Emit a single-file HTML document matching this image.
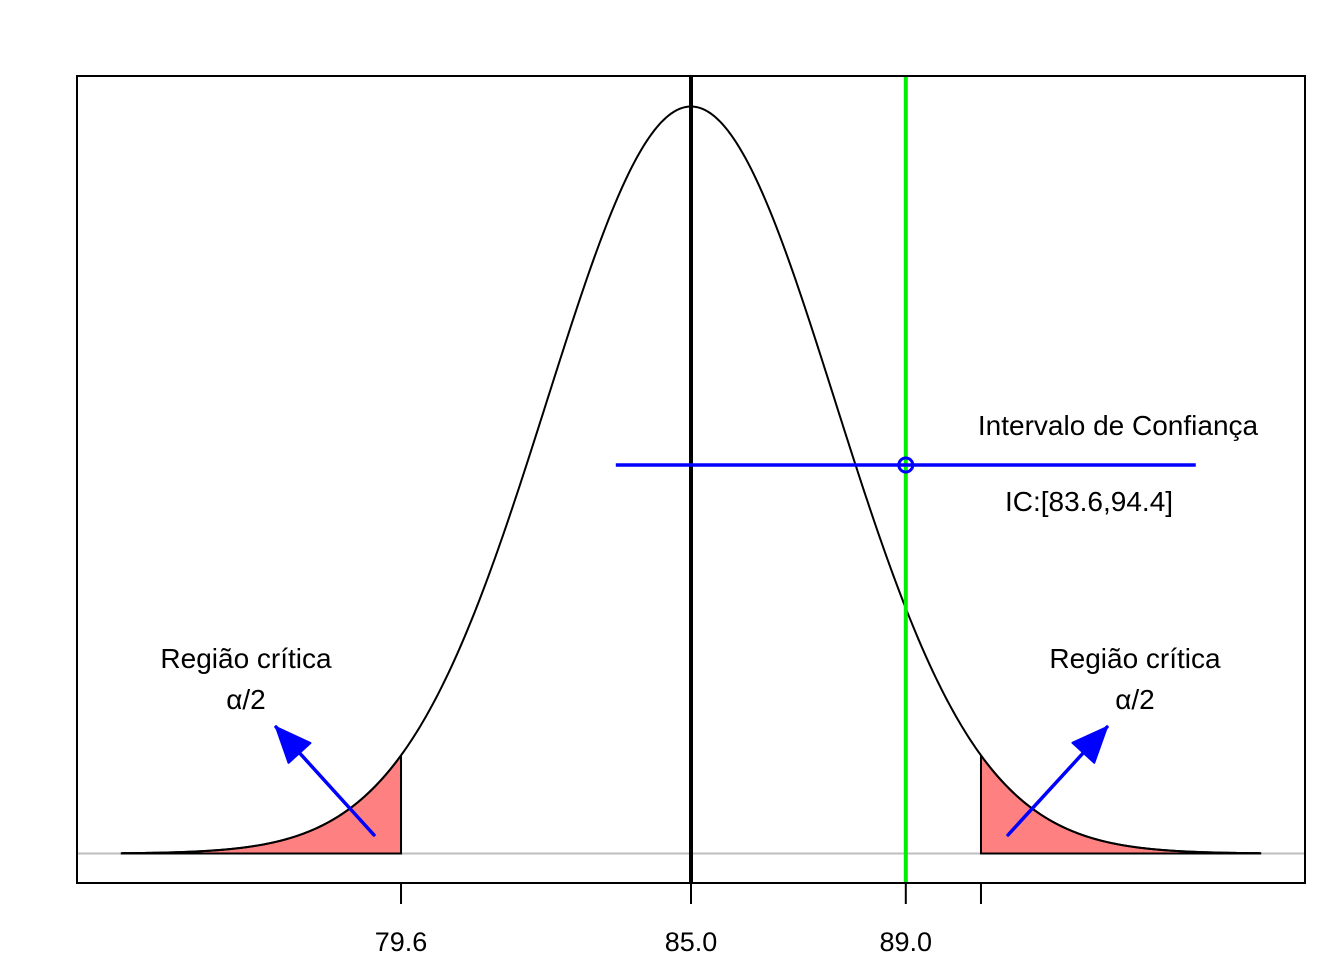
<!DOCTYPE html>
<html><head><meta charset="utf-8"><style>
body{margin:0;background:#fff}
svg{display:block;font-family:"Liberation Sans",Arial,sans-serif}
</style></head><body>
<svg id="chart" width="1344" height="960" viewBox="0 0 1344 960" xmlns="http://www.w3.org/2000/svg">
<rect x="0" y="0" width="1344" height="960" fill="#fff"/>
<g id="marks"></g>
</svg>
<script>
const mu = 85.0;
const sd = 2.68;
const xMin = 74.4, xMax = 95.6;
const critLow = 79.6, critHigh = 90.4;
const sampleMean = 89.0;
const ciBounds = [83.6, 94.4];
const tickValues = [79.6, 85.0, 89.0, 90.4];
const tickLabels = ["79.6", "85.0", "89.0", ""];

const NS = "http://www.w3.org/2000/svg";
const g = document.getElementById("marks");
const X = v => 691 + (v - 85.0) * 53.7;
const base = 853.5, peakH = 747;
const dens = v => Math.exp(-0.5 * ((v - mu) / sd) ** 2);
const Y = v => base - peakH * dens(v);
function mk(tag, attrs, name, text) {
  const e = document.createElementNS(NS, tag);
  for (const k in attrs) e.setAttribute(k, attrs[k]);
  
  
  if (text !== undefined) e.textContent = text;
  g.appendChild(e);
  return e;
}
// baseline
mk('line', {x1: 77, x2: 1305, y1: base, y2: base, stroke: '#bebebe', 'stroke-width': 2}, 'zero-line');
// tails
function tail(a, b, name) {
  let p = `M${X(a)},${base}`;
  for (let i = 0; i <= 100; i++) { const v = a + (b - a) * i / 100; p += ` L${X(v).toFixed(2)},${Y(v).toFixed(2)}`; }
  p += ` L${X(b)},${base} Z`;
  mk('path', {d: p, fill: '#ff8080', stroke: '#000', 'stroke-width': 2}, name);
}
tail(xMin, critLow, 'critical-region-left');
tail(critHigh, xMax, 'critical-region-right');
// curve
let d = '';
for (let i = 0; i <= 400; i++) { const v = xMin + (xMax - xMin) * i / 400; d += (i ? ' L' : 'M') + X(v).toFixed(2) + ',' + Y(v).toFixed(2); }
mk('path', {d, fill: 'none', stroke: '#000', 'stroke-width': 2}, 'density-curve');
// lines
mk('line', {x1: X(mu), x2: X(mu), y1: 76, y2: 883, stroke: '#000', 'stroke-width': 4}, 'mean-line');
mk('line', {x1: X(sampleMean), x2: X(sampleMean), y1: 76, y2: 883, stroke: '#00ee00', 'stroke-width': 4}, 'sample-mean-line');
// CI
mk('line', {x1: X(ciBounds[0]), x2: X(ciBounds[1]), y1: 465, y2: 465, stroke: '#0000ff', 'stroke-width': 3.5}, 'confidence-interval');
mk('circle', {cx: X(sampleMean), cy: 465, r: 7, fill: 'none', stroke: '#0000ff', 'stroke-width': 3}, 'ci-point');
// arrows
function arrow(x1, y1, x2, y2, name) {
  mk('line', {x1, y1, x2, y2, stroke: '#0000ff', 'stroke-width': 3.5, 'stroke-linecap': 'round'}, name + '-shaft');
  const a = Math.atan2(y2 - y1, x2 - x1), L = 38, w = 0.4;
  const p = [[x2, y2], [x2 - L * Math.cos(a - w), y2 - L * Math.sin(a - w)], [x2 - L * Math.cos(a + w), y2 - L * Math.sin(a + w)]];
  mk('polygon', {points: p.map(q => q.join(',')).join(' '), fill: '#0000ff', stroke: '#0000ff', 'stroke-width': 2, 'stroke-linejoin': 'round'}, name + '-head');
}
arrow(374, 835, 276, 727, 'arrow-left');
arrow(1008, 835, 1107, 727, 'arrow-right');
// box
mk('rect', {x: 77, y: 76, width: 1228, height: 807, fill: 'none', stroke: '#000', 'stroke-width': 2}, 'plot-box');
// ticks
tickValues.forEach((v, i) => {
  mk('line', {x1: X(v), x2: X(v), y1: 883, y2: 904, stroke: '#000', 'stroke-width': 2}, 'x-tick');
  if (tickLabels[i]) mk('text', {x: X(v), y: 951, 'font-size': 27, 'text-anchor': 'middle'}, 'x-tick-label', tickLabels[i]);
});
// labels
const T = (x, y, s, n) => mk('text', {x, y, 'font-size': 28, 'text-anchor': 'middle'}, n, s);
T(1118, 435, 'Intervalo de Confiança', 'ci-title');
T(1089, 511, 'IC:[83.6,94.4]', 'ci-label');
T(246, 668, 'Região crítica', 'critical-label-left');
T(246, 709, 'α/2', 'alpha-label-left');
T(1135, 668, 'Região crítica', 'critical-label-right');
T(1135, 709, 'α/2', 'alpha-label-right');
</script>
</body></html>
